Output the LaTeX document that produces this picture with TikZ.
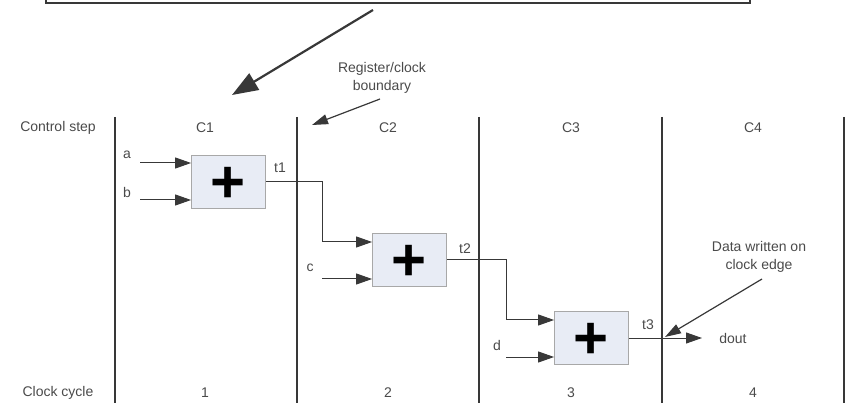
\documentclass[tikz,border=0pt]{standalone}
\usepackage{fontspec}
\setmainfont{Liberation Sans}
\usetikzlibrary{arrows.meta}
\definecolor{txt}{HTML}{4A4A4A}
\definecolor{ln}{HTML}{383838}
\definecolor{boxfill}{HTML}{E8ECF5}
\definecolor{boxdraw}{HTML}{A8A8A8}
\tikzset{
 lbl/.style={text=txt, font=\fontsize{14}{18}\selectfont, inner sep=0pt, align=center},
 addbox/.style={draw=boxdraw, fill=boxfill, minimum width=74pt, minimum height=53pt, inner sep=0pt, line width=0.8pt},
 plussign/.style={font=\fontsize{60}{60}\selectfont\bfseries, text=black, inner sep=0pt, yshift=-3pt},
 conn/.style={draw=ln, line width=1pt},
 arr/.style={conn, -{Triangle[length=16pt,width=11pt]}},
 bound/.style={draw=ln, line width=1.5pt},
}
\begin{document}
\begin{tikzpicture}[x=1pt,y=-1pt]
\useasboundingbox (0,0) rectangle (846,403);
\clip (0,0) rectangle (846,403);
% top box (partly visible)
\draw[draw=ln, line width=1.6pt] (46,-40) rectangle (750,3);
% big arrow
\coordinate (bigs) at (373,10);
\coordinate (bigt) at (232,95);
\draw[draw=ln, line width=2.2pt, -{Triangle[length=26pt,width=19pt]}] (bigs) -- (bigt);
% register/clock boundary
\node[lbl] (reg) at (382,78) {Register/clock\\boundary};
\coordinate (regs) at (380,99);
\coordinate (regt) at (312,125);
\draw[conn, line width=1.2pt, -{Triangle[length=16pt,width=10pt]}] (regs) -- (regt);
% vertical boundaries
\foreach \n/\x in {1/115,2/297,3/479,4/662,5/844}{
  \coordinate (vt\n) at (\x,117);
  \coordinate (vb\n) at (\x,410);
  \draw[bound] (vt\n) -- (vb\n);
}
% row labels
\node[lbl] (cs) at (58,128) {Control step};
\node[lbl] (cc) at (58,393) {Clock cycle};
\node[lbl] (c1) at (205,128) {C1};
\node[lbl] (c2) at (388,128) {C2};
\node[lbl] (c3) at (571,128) {C3};
\node[lbl] (c4) at (753,128) {C4};
\node[lbl] (k1) at (205,393) {1};
\node[lbl] (k2) at (388,393) {2};
\node[lbl] (k3) at (571,393) {3};
\node[lbl] (k4) at (753,393) {4};
% adders
\node[addbox] (box1) at (228.5,181.5) {};
\node[addbox] (box2) at (409.5,260) {};
\node[addbox] (box3) at (591.5,338) {};
\node[plussign] (p1) at (box1.center) {+};
\node[plussign] (p2) at (box2.center) {+};
\node[plussign] (p3) at (box3.center) {+};
% inputs
\node[lbl] (la) at (127,155) {a};
\node[lbl] (lb) at (127,192) {b};
\node[lbl] (lc) at (310,268) {c};
\node[lbl] (ld) at (497,345) {d};
\coordinate (ina) at (140,163);
\coordinate (inb) at (140,200);
\coordinate (inc) at (322,279);
\coordinate (ind) at (506,357);
\draw[arr] (ina) -- (ina -| box1.west);
\draw[arr] (inb) -- (inb -| box1.west);
\draw[arr] (inc) -- (inc -| box2.west);
\draw[arr] (ind) -- (ind -| box3.west);
% intermediate results
\node[lbl] (lt1) at (280,168) {t1};
\node[lbl] (lt2) at (465,249) {t2};
\node[lbl] (lt3) at (648,325) {t3};
\coordinate (t1x) at (322,181.5);
\coordinate (t2x) at (506,260);
\path (box2.west) ++(0,-18) coordinate (b2in);
\path (box3.west) ++(0,-18) coordinate (b3in);
\draw[arr] (box1.east) -- (t1x) |- (b2in);
\draw[arr] (box2.east) -- (t2x) |- (b3in);
\coordinate (doutt) at (702,338);
\draw[arr] (box3.east) -- (doutt);
\node[lbl] (dout) at (733,338) {dout};
% data written note
\node[lbl] (dw) at (759,257) {Data written on\\clock edge};
\coordinate (dws) at (762,279);
\coordinate (dwt) at (665,337);
\draw[conn, line width=1.2pt, -{Triangle[length=16pt,width=10pt]}] (dws) -- (dwt);
\end{tikzpicture}
\end{document}
